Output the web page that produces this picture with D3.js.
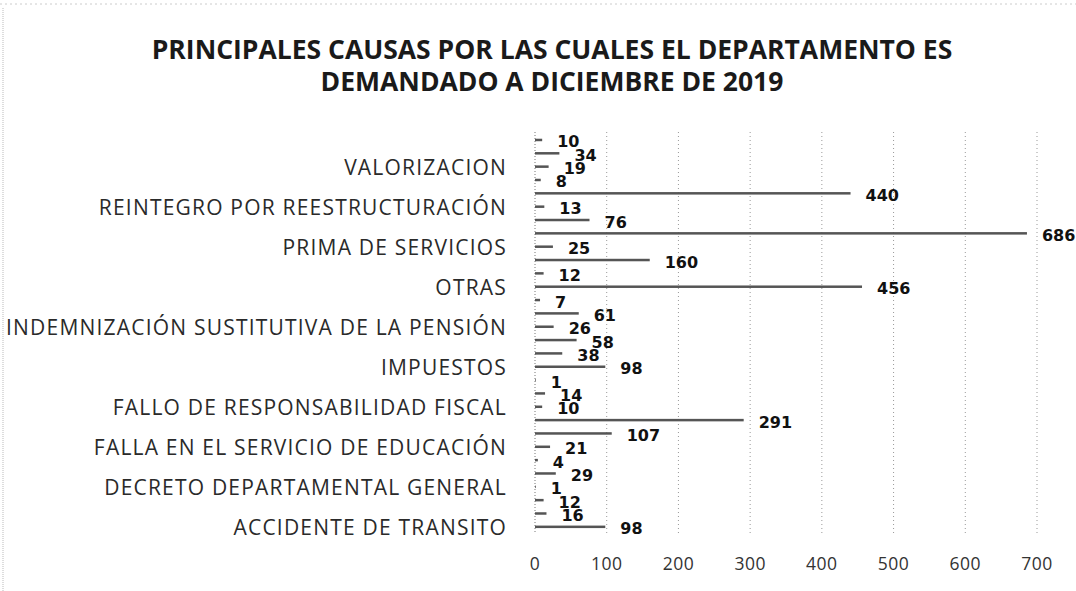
<!DOCTYPE html>
<html lang="es">
<head>
<meta charset="UTF-8">
<title>Principales causas por las cuales el departamento es demandado</title>
<script src="https://d3js.org/d3.v7.min.js"></script>
<style>
  body { margin: 0; background: #fff; }
  .cat { font-family: "Open Sans", sans-serif; font-size: 21px; letter-spacing: 1.2px; fill: #2a2a2a; }
  .tick-x { font-family: "Open Sans", sans-serif; font-size: 17.5px; letter-spacing: 0.5px; fill: #333; }
  .val { font-family: "DejaVu Sans", sans-serif; font-weight: bold; font-size: 16px; fill: #111; }
  .title { font-family: "Open Sans", sans-serif; font-weight: bold; font-size: 26.5px; fill: #1a1a1a; }
</style>
</head>
<body>
<svg width="1076" height="591"></svg>
<script>
// categorias de abajo hacia arriba (solo una de cada tres lleva rotulo)
const categories = [
  "ACCIDENTE DE TRANSITO", "", "",
  "DECRETO DEPARTAMENTAL GENERAL", "", "",
  "FALLA EN EL SERVICIO DE EDUCACIÓN", "", "",
  "FALLO DE RESPONSABILIDAD FISCAL", "", "",
  "IMPUESTOS", "", "",
  "INDEMNIZACIÓN SUSTITUTIVA DE LA PENSIÓN", "", "",
  "OTRAS", "", "",
  "PRIMA DE SERVICIOS", "", "",
  "REINTEGRO POR REESTRUCTURACIÓN", "", "",
  "VALORIZACION", "", ""
];
const values = [98, 16, 12, 1, 29, 4, 21, 107, 291, 10,
                14, 1, 98, 38, 58, 26, 61, 7, 456, 12,
                160, 25, 686, 76, 13, 440, 8, 19, 34, 10];
const xTicks = [0, 100, 200, 300, 400, 500, 600, 700];
const titleLines = ["PRINCIPALES CAUSAS POR LAS CUALES EL DEPARTAMENTO ES",
                    "DEMANDADO A DICIEMBRE DE 2019"];

const svg = d3.select("svg");

const x = d3.scaleLinear().domain([0, 700]).range([535, 1037]);
const idx = d3.range(values.length);
const y = d3.scaleBand().domain(idx).range([533.5, 133.3]).padding(0);

// marco escaneado
svg.append("line").attr("x1", 3).attr("x2", 3).attr("y1", 8).attr("y2", 591)
  .attr("stroke", "#bbb").attr("stroke-dasharray", "1,1");
svg.append("line").attr("x1", 0).attr("x2", 1076).attr("y1", 4).attr("y2", 4)
  .attr("stroke", "#ccc").attr("stroke-dasharray", "2,3");

// titulo
svg.selectAll(".title").data(titleLines).enter().append("text")
  .attr("class", "title")
  .attr("x", 552).attr("y", (d, i) => 59 + i * 32)
  .attr("text-anchor", "middle")
  .text(d => d);

// lineas de division
svg.selectAll(".grid").data(xTicks.slice(1)).enter().append("line")
  .attr("x1", d => x(d)).attr("x2", d => x(d))
  .attr("y1", 132).attr("y2", 534)
  .attr("stroke", "#999").attr("stroke-width", 1).attr("stroke-dasharray", "1,3");

// eje vertical
svg.append("line").attr("x1", x(0)).attr("x2", x(0)).attr("y1", 132).attr("y2", 534)
  .attr("stroke", "#777").attr("stroke-dasharray", "1,2");

// barras
svg.selectAll(".bar").data(idx).enter().append("rect")
  .attr("x", x(0))
  .attr("y", i => y(i) + y.bandwidth() / 2 - 1.25)
  .attr("width", i => x(values[i]) - x(0))
  .attr("height", 2.5)
  .attr("fill", "#555");

// rotulos de valores
svg.selectAll(".val").data(idx).enter().append("text")
  .attr("class", "val")
  .attr("x", i => x(values[i]) + 15)
  .attr("y", i => y(i) + y.bandwidth() / 2 + 2)
  .attr("dominant-baseline", "central")
  .text(i => values[i]);

// rotulos de categorias
svg.selectAll(".cat").data(idx.filter(i => categories[i] !== "")).enter().append("text")
  .attr("class", "cat")
  .attr("x", 507)
  .attr("y", i => y(i) + y.bandwidth() / 2)
  .attr("dominant-baseline", "central")
  .attr("text-anchor", "end")
  .text(i => categories[i]);

// eje x
svg.selectAll(".tick-x").data(xTicks).enter().append("text")
  .attr("class", "tick-x")
  .attr("x", d => x(d)).attr("y", 563)
  .attr("dominant-baseline", "central")
  .attr("text-anchor", "middle")
  .text(d => d);
</script>
</body>
</html>
